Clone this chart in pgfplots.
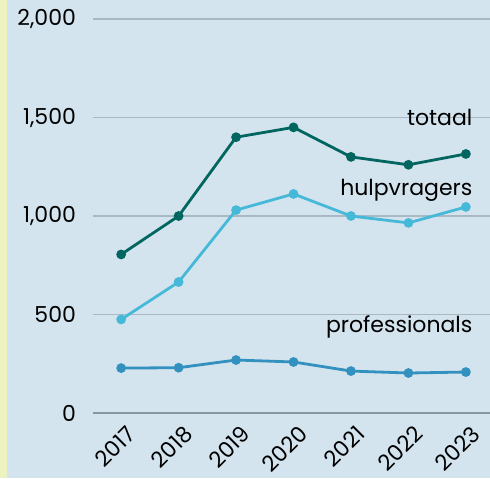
\documentclass[border=0pt]{standalone}
\usepackage{pgfplots}
\pgfplotsset{compat=1.18}
\usepackage{fontspec}
\setmainfont{Poppins}
\definecolor{bg}{HTML}{D4E4EE}
\definecolor{strip}{HTML}{ECF2C0}
\definecolor{gridc}{HTML}{A9B8C3}
\definecolor{axc}{HTML}{8797A2}
\definecolor{totc}{HTML}{00665F}
\definecolor{hulc}{HTML}{46B9D9}
\definecolor{proc}{HTML}{3291BE}
\begin{document}
\begin{tikzpicture}[font=\fontsize{11}{13}\selectfont]
\useasboundingbox (0,0) rectangle (245pt,239pt);
\fill[bg] (0,0) rectangle (245pt,239pt);
\fill[strip] (0,0) rectangle (3.5pt,239pt);
\begin{axis}[
  at={(46.5pt,32.5pt)}, anchor=south west,
  scale only axis, width=198.5pt, height=197pt,
  xmin=2016.51, xmax=2023.42, ymin=0, ymax=2000,
  xtick={2017,...,2023}, ytick={0,500,1000,1500,2000},
  x tick label style={/pgf/number format/1000 sep={}},
  y tick label style={/pgf/number format/1000 sep={,}},
  /pgf/number format/assume math mode=true,
  axis x line*=bottom, axis y line*=left,
  x axis line style={draw=axc, line width=0.8pt, -},
  y axis line style={draw=none},
  tick style={draw=none},
  ymajorgrids, grid style={draw=gridc, line width=0.6pt},
  yticklabel style={anchor=east, xshift=-5pt},
  xticklabel style={rotate=45, anchor=north east, yshift=-2pt, xshift=1pt},
  clip=false,
  every axis plot/.append style={line width=1.4pt, mark=*, mark size=1.7pt},
]
\addplot[totc, mark options={fill=totc}] coordinates {(2017,805) (2018,1000) (2019,1400) (2020,1450) (2021,1300) (2022,1260) (2023,1315)};
\addplot[hulc, mark options={fill=hulc}] coordinates {(2017,475) (2018,665) (2019,1030) (2020,1112) (2021,1000) (2022,965) (2023,1046)};
\addplot[proc, mark options={fill=proc}] coordinates {(2017,228) (2018,230) (2019,269) (2020,259) (2021,213) (2022,203) (2023,208)};
\node[anchor=east, inner sep=0pt] at (axis cs:2023.12,1500) {totaal};
\node[anchor=east, inner sep=0pt] at (axis cs:2023.12,1132) {hulpvragers};
\node[anchor=east, inner sep=0pt] at (axis cs:2023.12,437) {professionals};
\end{axis}
\end{tikzpicture}
\end{document}
